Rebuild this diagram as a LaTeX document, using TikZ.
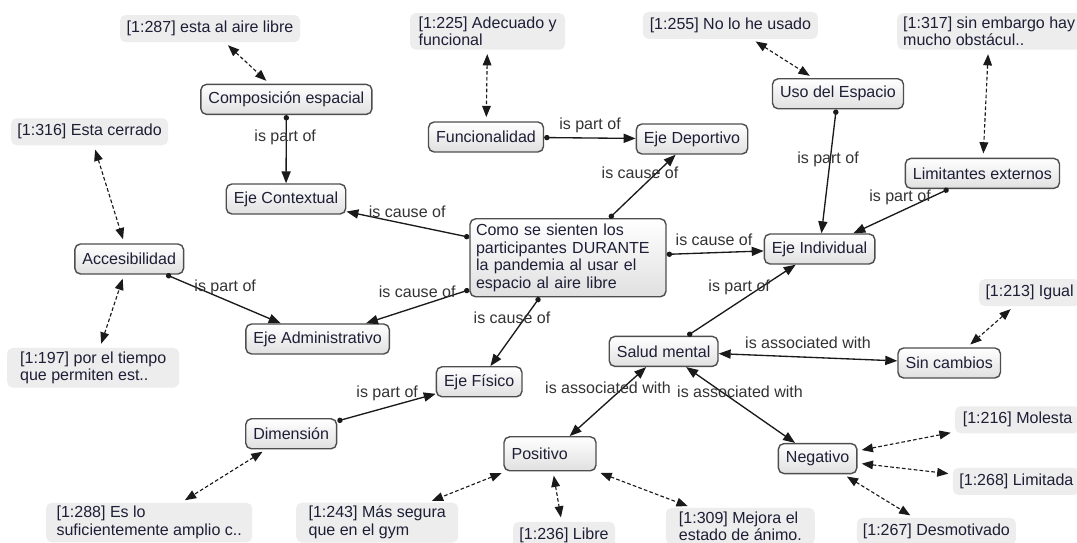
\documentclass[tikz,border=0pt]{standalone}
\usepackage{fontspec}
\setmainfont{Liberation Sans}
\usetikzlibrary{arrows.meta}
\definecolor{conceptline}{HTML}{4E4E4E}
\definecolor{conceptshade}{HTML}{E0E0E0}
\definecolor{conceptink}{HTML}{1E1E36}
\definecolor{quotefill}{HTML}{EDEDED}
\definecolor{linkink}{HTML}{1A1A1A}
\definecolor{labelink}{HTML}{333333}
\tikzset{
  concept/.style={
    draw=conceptline,
    line width=1pt,
    rounded corners=4pt,
    top color=white,
    bottom color=conceptshade,
    minimum height=0.75cm,
    inner xsep=0.19cm,
    inner ysep=2pt,
    align=left,
    font=\fontsize{11.4}{12.6}\selectfont,
    text=conceptink
  },
  quotebox/.style={
    fill=quotefill,
    rounded corners=4pt,
    minimum height=0.675cm,
    inner xsep=0.15cm,
    inner ysep=2.5pt,
    align=left,
    font=\fontsize{11.4}{12.6}\selectfont,
    text=conceptink
  },
  linklabel/.style={font=\fontsize{11.4}{12.6}\selectfont, text=labelink, inner sep=1pt},
  link/.style={{Circle[length=3.8pt]}-{Triangle[length=8.5pt,width=6.5pt]}, line width=0.95pt, draw=linkink},
  assoc/.style={{Triangle[length=8.5pt,width=6.5pt]}-{Triangle[length=8.5pt,width=6.5pt]}, line width=0.95pt, draw=linkink},
  evidence/.style={{Triangle[length=8pt,width=6.2pt]}-{Triangle[length=8pt,width=6.2pt]}, line width=0.8pt, draw=linkink,
    dash pattern=on 2.6pt off 1.6pt, shorten <=3pt, shorten >=3pt}
}

\begin{document}
\begin{tikzpicture}[x=1cm,y=1cm]

\useasboundingbox[fill=white] (0,0) rectangle (26.925,13.575);

% Concepts
\node[concept, text width=4.6cm, inner xsep=0.15cm, minimum height=1.95cm] (central) at (14.20,7.13)
  {Como se sienten los\\participantes DURANTE\\la pandemia al usar el\\espacio al aire libre};
\node[concept] (compo) at (7.16,11.09) {Composición espacial};
\node[concept] (funci) at (12.15,10.15) {Funcionalidad};
\node[concept] (depor) at (17.30,10.10) {Eje Deportivo};
\node[concept] (uso) at (20.95,11.23) {Uso del Espacio};
\node[concept] (limit) at (24.56,9.24) {Limitantes externos};
\node[concept] (contex) at (7.15,8.60) {Eje Contextual};
\node[concept] (access) at (3.23,7.10) {Accesibilidad};
\node[concept] (indiv) at (20.49,7.35) {Eje Individual};
\node[concept] (admin) at (7.94,5.10) {Eje Administrativo};
\node[concept] (salud) at (16.59,4.79) {Salud mental};
\node[concept] (sin) at (23.73,4.50) {Sin cambios};
\node[concept] (fisico) at (11.98,4.03) {Eje Físico};
\node[concept] (dimen) at (7.28,2.73) {Dimensión};
\node[concept, text width=1.92cm, minimum height=0.85cm] (posit) at (13.75,2.23) {Positivo};
\node[concept] (negat) at (20.44,2.11) {Negativo};

% Quotations
\node[quotebox, minimum width=4.5cm] (q287) at (5.25,12.86) {[1:287] esta al aire libre};
\node[quotebox, minimum width=3.875cm] (q225) at (12.19,12.79) {[1:225] Adecuado y\\funcional};
\node[quotebox, minimum width=4.375cm] (q255) at (18.26,12.94) {[1:255] No lo he usado};
\node[quotebox, minimum width=4.55cm] (q317) at (24.73,12.79) {[1:317] sin embargo hay\\mucho obstácul..};
\node[quotebox, minimum width=3.925cm] (q316) at (2.24,10.28) {[1:316] Esta cerrado};
\node[quotebox, minimum width=4.3cm] (q197) at (2.33,4.38) {[1:197] por el tiempo\\que permiten est..};
\node[quotebox, minimum width=2.525cm] (q213) at (25.74,6.26) {[1:213] Igual};
\node[quotebox, minimum width=3.125cm] (q216) at (25.44,3.08) {[1:216] Molesta};
\node[quotebox, minimum width=3.175cm] (q268) at (25.41,1.54) {[1:268] Limitada};
\node[quotebox, minimum width=3.975cm] (q267) at (23.41,0.29) {[1:267] Desmotivado};
\node[quotebox, minimum width=3.725cm] (q309) at (18.51,0.42) {[1:309] Mejora el\\estado de ánimo.};
\node[quotebox, minimum width=2.55cm] (q236) at (14.10,0.19) {[1:236] Libre};
\node[quotebox, minimum width=4.05cm] (q243) at (9.43,0.51) {[1:243] Más segura\\que en el gym};
\node[quotebox, minimum width=5.15cm] (q288) at (3.73,0.51) {[1:288] Es lo\\suficientemente amplio c..};

% Links between concepts
\draw[link] (compo) -- (contex);
\draw[link] (funci) -- (depor);
\draw[link] (central) -- (depor);
\draw[link] (central) -- (contex);
\draw[link] (central) -- (indiv);
\draw[link] (central) -- (admin);
\draw[link] (central) -- (fisico);
\draw[link] (access) -- (admin);
\draw[link] (uso) -- (indiv);
\draw[link] (limit) -- (indiv);
\draw[link] (salud) -- (indiv);
\draw[link] (dimen) -- (fisico);
\draw[assoc] (salud) -- (sin);
\draw[assoc] (salud) -- (posit);
\draw[assoc] (salud) -- (negat);

% Quotation links
\draw[evidence] (q287) -- (compo);
\draw[evidence] (q225) -- (funci);
\draw[evidence] (q255) -- (uso);
\draw[evidence] (q317) -- (limit);
\draw[evidence] (q316) -- (access);
\draw[evidence] (q197) -- (access);
\draw[evidence] (q213) -- (sin);
\draw[evidence] (dimen) -- (q288);
\draw[evidence] (posit) -- (q243);
\draw[evidence] (posit) -- (q236);
\draw[evidence] (posit) -- (q309);
\draw[evidence] (negat) -- (q216);
\draw[evidence] (negat) -- (q268);
\draw[evidence] (negat) -- (q267);

% Link labels
\node[linklabel] (lcompo) at (7.13,10.15) {is part of};
\node[linklabel] (lfunci) at (14.75,10.45) {is part of};
\node[linklabel] (ldepor) at (16.00,9.25) {is cause of};
\node[linklabel] (lcontex) at (10.18,8.28) {is cause of};
\node[linklabel] (lindiv) at (17.85,7.58) {is cause of};
\node[linklabel] (ladmin) at (10.43,6.28) {is cause of};
\node[linklabel] (lfisico) at (12.80,5.63) {is cause of};
\node[linklabel] (laccess) at (5.63,6.40) {is part of};
\node[linklabel] (luso) at (20.70,9.60) {is part of};
\node[linklabel] (llimit) at (22.50,8.65) {is part of};
\node[linklabel] (lsalud) at (18.48,6.38) {is part of};
\node[linklabel] (lsin) at (20.20,5.00) {is associated with};
\node[linklabel] (lposit) at (15.20,3.88) {is associated with};
\node[linklabel] (lnegat) at (18.50,3.78) {is associated with};
\node[linklabel] (ldimen) at (9.68,3.75) {is part of};

\end{tikzpicture}
\end{document}
